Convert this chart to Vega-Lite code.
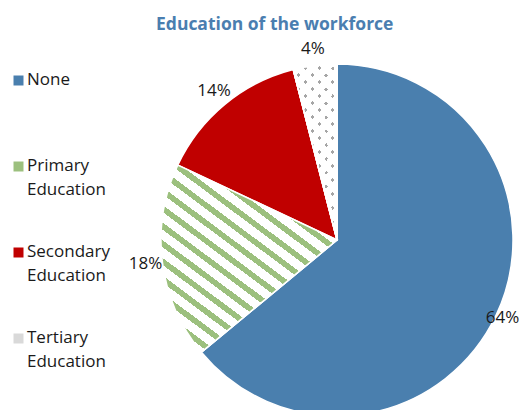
{
  "$schema": "https://vega.github.io/schema/vega-lite/v6.json",
  "autosize": "none",
  "width": 340,
  "height": 340,
  "padding": {"left": 167, "top": 70, "right": 17, "bottom": 0},
  "background": "white",
  "config": {"style": {"guide-label": {"lineHeight": 24, "dy": -9}}},
  "title": {
    "text": "Education of the workforce",
    "anchor": "start",
    "frame": "group",
    "dx": -11,
    "dy": 8,
    "font": "Open Sans",
    "fontSize": 17.5,
    "fontWeight": "bold",
    "color": "#4A7EB0",
    "offset": 0,
    "baseline": "alphabetic"
  },
  "data": {
    "values": [
      {"cat": "None", "value": 64, "order": 1, "label": "64%"},
      {"cat": "Primary Education", "value": 18, "order": 2, "label": "18%"},
      {"cat": "Secondary Education", "value": 14, "order": 3, "label": "14%"},
      {"cat": "Tertiary Education", "value": 4, "order": 4, "label": "4%"}
    ]
  },
  "layer": [
    {
      "mark": {"type": "arc", "radius": 176, "stroke": "white", "strokeWidth": 1.5},
      "encoding": {
        "theta": {"field": "value", "type": "quantitative", "stack": true},
        "order": {"field": "order", "type": "quantitative"},
        "color": {
          "field": "cat",
          "type": "nominal",
          "scale": {
            "domain": ["None", "Primary Education", "Secondary Education", "Tertiary Education"],
            "range": ["#4A7FAE", "#9CC07E", "#C00000", "#D9D9D9"]
          },
          "legend": {
            "orient": "none",
            "legendX": -157,
            "legendY": 2,
            "title": null,
            "symbolType": "square",
            "symbolSize": 100,
            "symbolStrokeWidth": 0,
            "labelFont": "Open Sans",
            "labelFontSize": 17,
            "labelColor": "#1a1a1a",
            "labelOffset": 0,
            "labelBaseline": "top",
            "rowPadding": 44,
            "labelLimit": 200,
            "labelExpr": "datum.label == 'None' ? ['None', ''] : split(datum.label, ' ')"
          }
        }
      }
    },
    {
      "mark": {"type": "arc", "radius": 176, "stroke": "white", "strokeWidth": 1.5,
        "fill": {"gradient": "linear", "x1": 0.101, "y1": 1.07, "x2": 0.899, "y2": -0.07, "stops": [
          {"offset": 0, "color": "#9CC07E"}, {"offset": 0.0222, "color": "#9CC07E"}, {"offset": 0.0222, "color": "#FFFFFF"}, {"offset": 0.0556, "color": "#FFFFFF"},
          {"offset": 0.0556, "color": "#9CC07E"}, {"offset": 0.0778, "color": "#9CC07E"}, {"offset": 0.0778, "color": "#FFFFFF"}, {"offset": 0.1111, "color": "#FFFFFF"},
          {"offset": 0.1111, "color": "#9CC07E"}, {"offset": 0.1333, "color": "#9CC07E"}, {"offset": 0.1333, "color": "#FFFFFF"}, {"offset": 0.1667, "color": "#FFFFFF"},
          {"offset": 0.1667, "color": "#9CC07E"}, {"offset": 0.1889, "color": "#9CC07E"}, {"offset": 0.1889, "color": "#FFFFFF"}, {"offset": 0.2222, "color": "#FFFFFF"},
          {"offset": 0.2222, "color": "#9CC07E"}, {"offset": 0.2444, "color": "#9CC07E"}, {"offset": 0.2444, "color": "#FFFFFF"}, {"offset": 0.2778, "color": "#FFFFFF"},
          {"offset": 0.2778, "color": "#9CC07E"}, {"offset": 0.3, "color": "#9CC07E"}, {"offset": 0.3, "color": "#FFFFFF"}, {"offset": 0.3333, "color": "#FFFFFF"},
          {"offset": 0.3333, "color": "#9CC07E"}, {"offset": 0.3556, "color": "#9CC07E"}, {"offset": 0.3556, "color": "#FFFFFF"}, {"offset": 0.3889, "color": "#FFFFFF"},
          {"offset": 0.3889, "color": "#9CC07E"}, {"offset": 0.4111, "color": "#9CC07E"}, {"offset": 0.4111, "color": "#FFFFFF"}, {"offset": 0.4444, "color": "#FFFFFF"},
          {"offset": 0.4444, "color": "#9CC07E"}, {"offset": 0.4667, "color": "#9CC07E"}, {"offset": 0.4667, "color": "#FFFFFF"}, {"offset": 0.5, "color": "#FFFFFF"},
          {"offset": 0.5, "color": "#9CC07E"}, {"offset": 0.5222, "color": "#9CC07E"}, {"offset": 0.5222, "color": "#FFFFFF"}, {"offset": 0.5556, "color": "#FFFFFF"},
          {"offset": 0.5556, "color": "#9CC07E"}, {"offset": 0.5778, "color": "#9CC07E"}, {"offset": 0.5778, "color": "#FFFFFF"}, {"offset": 0.6111, "color": "#FFFFFF"},
          {"offset": 0.6111, "color": "#9CC07E"}, {"offset": 0.6333, "color": "#9CC07E"}, {"offset": 0.6333, "color": "#FFFFFF"}, {"offset": 0.6667, "color": "#FFFFFF"},
          {"offset": 0.6667, "color": "#9CC07E"}, {"offset": 0.6889, "color": "#9CC07E"}, {"offset": 0.6889, "color": "#FFFFFF"}, {"offset": 0.7222, "color": "#FFFFFF"},
          {"offset": 0.7222, "color": "#9CC07E"}, {"offset": 0.7444, "color": "#9CC07E"}, {"offset": 0.7444, "color": "#FFFFFF"}, {"offset": 0.7778, "color": "#FFFFFF"},
          {"offset": 0.7778, "color": "#9CC07E"}, {"offset": 0.8, "color": "#9CC07E"}, {"offset": 0.8, "color": "#FFFFFF"}, {"offset": 0.8333, "color": "#FFFFFF"},
          {"offset": 0.8333, "color": "#9CC07E"}, {"offset": 0.8556, "color": "#9CC07E"}, {"offset": 0.8556, "color": "#FFFFFF"}, {"offset": 0.8889, "color": "#FFFFFF"},
          {"offset": 0.8889, "color": "#9CC07E"}, {"offset": 0.9111, "color": "#9CC07E"}, {"offset": 0.9111, "color": "#FFFFFF"}, {"offset": 0.9444, "color": "#FFFFFF"},
          {"offset": 0.9444, "color": "#9CC07E"}, {"offset": 0.9667, "color": "#9CC07E"}, {"offset": 0.9667, "color": "#FFFFFF"}, {"offset": 1, "color": "#FFFFFF"}
        ]}
      },
      "encoding": {
        "theta": {"field": "value", "type": "quantitative", "stack": true},
        "order": {"field": "order", "type": "quantitative"},
        "detail": {"field": "cat"},
        "fillOpacity": {"condition": {"test": "datum.cat == 'Primary Education'", "value": 1}, "value": 0},
        "strokeOpacity": {"condition": {"test": "datum.cat == 'Primary Education'", "value": 1}, "value": 0}
      }
    },
    {
      "mark": {"type": "arc", "radius": 176, "stroke": "white", "strokeWidth": 1.5,
        "fill": {"gradient": "linear", "x1": 0, "y1": 0, "x2": 0.294, "y2": 1.176, "stops": [
          {"offset": 0, "color": "#A6A6A6"}, {"offset": 0.0182, "color": "#A6A6A6"}, {"offset": 0.0182, "color": "#FFFFFF"}, {"offset": 0.0636, "color": "#FFFFFF"},
          {"offset": 0.0636, "color": "#A6A6A6"}, {"offset": 0.0818, "color": "#A6A6A6"}, {"offset": 0.0818, "color": "#FFFFFF"}, {"offset": 0.1273, "color": "#FFFFFF"},
          {"offset": 0.1273, "color": "#A6A6A6"}, {"offset": 0.1455, "color": "#A6A6A6"}, {"offset": 0.1455, "color": "#FFFFFF"}, {"offset": 0.1909, "color": "#FFFFFF"},
          {"offset": 0.1909, "color": "#A6A6A6"}, {"offset": 0.2091, "color": "#A6A6A6"}, {"offset": 0.2091, "color": "#FFFFFF"}, {"offset": 0.2545, "color": "#FFFFFF"},
          {"offset": 0.2545, "color": "#A6A6A6"}, {"offset": 0.2727, "color": "#A6A6A6"}, {"offset": 0.2727, "color": "#FFFFFF"}, {"offset": 0.3182, "color": "#FFFFFF"},
          {"offset": 0.3182, "color": "#A6A6A6"}, {"offset": 0.3364, "color": "#A6A6A6"}, {"offset": 0.3364, "color": "#FFFFFF"}, {"offset": 0.3818, "color": "#FFFFFF"},
          {"offset": 0.3818, "color": "#A6A6A6"}, {"offset": 0.4, "color": "#A6A6A6"}, {"offset": 0.4, "color": "#FFFFFF"}, {"offset": 0.4455, "color": "#FFFFFF"},
          {"offset": 0.4455, "color": "#A6A6A6"}, {"offset": 0.4636, "color": "#A6A6A6"}, {"offset": 0.4636, "color": "#FFFFFF"}, {"offset": 0.5091, "color": "#FFFFFF"},
          {"offset": 0.5091, "color": "#A6A6A6"}, {"offset": 0.5273, "color": "#A6A6A6"}, {"offset": 0.5273, "color": "#FFFFFF"}, {"offset": 0.5727, "color": "#FFFFFF"},
          {"offset": 0.5727, "color": "#A6A6A6"}, {"offset": 0.5909, "color": "#A6A6A6"}, {"offset": 0.5909, "color": "#FFFFFF"}, {"offset": 0.6364, "color": "#FFFFFF"},
          {"offset": 0.6364, "color": "#A6A6A6"}, {"offset": 0.6545, "color": "#A6A6A6"}, {"offset": 0.6545, "color": "#FFFFFF"}, {"offset": 0.7, "color": "#FFFFFF"},
          {"offset": 0.7, "color": "#A6A6A6"}, {"offset": 0.7182, "color": "#A6A6A6"}, {"offset": 0.7182, "color": "#FFFFFF"}, {"offset": 0.7636, "color": "#FFFFFF"},
          {"offset": 0.7636, "color": "#A6A6A6"}, {"offset": 0.7818, "color": "#A6A6A6"}, {"offset": 0.7818, "color": "#FFFFFF"}, {"offset": 0.8273, "color": "#FFFFFF"},
          {"offset": 0.8273, "color": "#A6A6A6"}, {"offset": 0.8455, "color": "#A6A6A6"}, {"offset": 0.8455, "color": "#FFFFFF"}, {"offset": 0.8909, "color": "#FFFFFF"},
          {"offset": 0.8909, "color": "#A6A6A6"}, {"offset": 0.9091, "color": "#A6A6A6"}, {"offset": 0.9091, "color": "#FFFFFF"}, {"offset": 0.9545, "color": "#FFFFFF"},
          {"offset": 0.9545, "color": "#A6A6A6"}, {"offset": 0.9727, "color": "#A6A6A6"}, {"offset": 0.9727, "color": "#FFFFFF"}, {"offset": 1, "color": "#FFFFFF"}
        ]}
      },
      "encoding": {
        "theta": {"field": "value", "type": "quantitative", "stack": true},
        "order": {"field": "order", "type": "quantitative"},
        "detail": {"field": "cat"},
        "fillOpacity": {"condition": {"test": "datum.cat == 'Tertiary Education'", "value": 1}, "value": 0},
        "strokeOpacity": {"condition": {"test": "datum.cat == 'Tertiary Education'", "value": 1}, "value": 0}
      }
    },
    {
      "mark": {"type": "arc", "radius": 176, "stroke": "white", "strokeWidth": 1.5,
        "fill": {"gradient": "linear", "x1": 0, "y1": 1, "x2": 0.294, "y2": -0.176, "stops": [
          {"offset": 0, "color": "rgba(255,255,255,0)"}, {"offset": 0.0182, "color": "rgba(255,255,255,0)"}, {"offset": 0.0182, "color": "#FFFFFF"}, {"offset": 0.0636, "color": "#FFFFFF"},
          {"offset": 0.0636, "color": "rgba(255,255,255,0)"}, {"offset": 0.0818, "color": "rgba(255,255,255,0)"}, {"offset": 0.0818, "color": "#FFFFFF"}, {"offset": 0.1273, "color": "#FFFFFF"},
          {"offset": 0.1273, "color": "rgba(255,255,255,0)"}, {"offset": 0.1455, "color": "rgba(255,255,255,0)"}, {"offset": 0.1455, "color": "#FFFFFF"}, {"offset": 0.1909, "color": "#FFFFFF"},
          {"offset": 0.1909, "color": "rgba(255,255,255,0)"}, {"offset": 0.2091, "color": "rgba(255,255,255,0)"}, {"offset": 0.2091, "color": "#FFFFFF"}, {"offset": 0.2545, "color": "#FFFFFF"},
          {"offset": 0.2545, "color": "rgba(255,255,255,0)"}, {"offset": 0.2727, "color": "rgba(255,255,255,0)"}, {"offset": 0.2727, "color": "#FFFFFF"}, {"offset": 0.3182, "color": "#FFFFFF"},
          {"offset": 0.3182, "color": "rgba(255,255,255,0)"}, {"offset": 0.3364, "color": "rgba(255,255,255,0)"}, {"offset": 0.3364, "color": "#FFFFFF"}, {"offset": 0.3818, "color": "#FFFFFF"},
          {"offset": 0.3818, "color": "rgba(255,255,255,0)"}, {"offset": 0.4, "color": "rgba(255,255,255,0)"}, {"offset": 0.4, "color": "#FFFFFF"}, {"offset": 0.4455, "color": "#FFFFFF"},
          {"offset": 0.4455, "color": "rgba(255,255,255,0)"}, {"offset": 0.4636, "color": "rgba(255,255,255,0)"}, {"offset": 0.4636, "color": "#FFFFFF"}, {"offset": 0.5091, "color": "#FFFFFF"},
          {"offset": 0.5091, "color": "rgba(255,255,255,0)"}, {"offset": 0.5273, "color": "rgba(255,255,255,0)"}, {"offset": 0.5273, "color": "#FFFFFF"}, {"offset": 0.5727, "color": "#FFFFFF"},
          {"offset": 0.5727, "color": "rgba(255,255,255,0)"}, {"offset": 0.5909, "color": "rgba(255,255,255,0)"}, {"offset": 0.5909, "color": "#FFFFFF"}, {"offset": 0.6364, "color": "#FFFFFF"},
          {"offset": 0.6364, "color": "rgba(255,255,255,0)"}, {"offset": 0.6545, "color": "rgba(255,255,255,0)"}, {"offset": 0.6545, "color": "#FFFFFF"}, {"offset": 0.7, "color": "#FFFFFF"},
          {"offset": 0.7, "color": "rgba(255,255,255,0)"}, {"offset": 0.7182, "color": "rgba(255,255,255,0)"}, {"offset": 0.7182, "color": "#FFFFFF"}, {"offset": 0.7636, "color": "#FFFFFF"},
          {"offset": 0.7636, "color": "rgba(255,255,255,0)"}, {"offset": 0.7818, "color": "rgba(255,255,255,0)"}, {"offset": 0.7818, "color": "#FFFFFF"}, {"offset": 0.8273, "color": "#FFFFFF"},
          {"offset": 0.8273, "color": "rgba(255,255,255,0)"}, {"offset": 0.8455, "color": "rgba(255,255,255,0)"}, {"offset": 0.8455, "color": "#FFFFFF"}, {"offset": 0.8909, "color": "#FFFFFF"},
          {"offset": 0.8909, "color": "rgba(255,255,255,0)"}, {"offset": 0.9091, "color": "rgba(255,255,255,0)"}, {"offset": 0.9091, "color": "#FFFFFF"}, {"offset": 0.9545, "color": "#FFFFFF"},
          {"offset": 0.9545, "color": "rgba(255,255,255,0)"}, {"offset": 0.9727, "color": "rgba(255,255,255,0)"}, {"offset": 0.9727, "color": "#FFFFFF"}, {"offset": 1, "color": "#FFFFFF"}
        ]}
      },
      "encoding": {
        "theta": {"field": "value", "type": "quantitative", "stack": true},
        "order": {"field": "order", "type": "quantitative"},
        "detail": {"field": "cat"},
        "fillOpacity": {"condition": {"test": "datum.cat == 'Tertiary Education'", "value": 1}, "value": 0},
        "strokeOpacity": {"condition": {"test": "datum.cat == 'Tertiary Education'", "value": 1}, "value": 0}
      }
    },
    {
      "mark": {"type": "text", "radius": 183, "font": "Open Sans", "fontSize": 17, "color": "#1a1a1a"},
      "encoding": {
        "theta": {"field": "value", "type": "quantitative", "stack": true},
        "order": {"field": "order", "type": "quantitative"},
        "detail": {"field": "cat"},
        "text": {"field": "label"},
        "opacity": {"condition": {"test": "datum.cat == 'None'", "value": 1}, "value": 0}
      }
    },
    {
      "mark": {"type": "text", "radius": 193, "font": "Open Sans", "fontSize": 17, "color": "#1a1a1a"},
      "encoding": {
        "theta": {"field": "value", "type": "quantitative", "stack": true},
        "order": {"field": "order", "type": "quantitative"},
        "detail": {"field": "cat"},
        "text": {"field": "label"},
        "opacity": {"condition": {"test": "datum.cat == 'None'", "value": 0}, "value": 1}
      }
    }
  ]
}
